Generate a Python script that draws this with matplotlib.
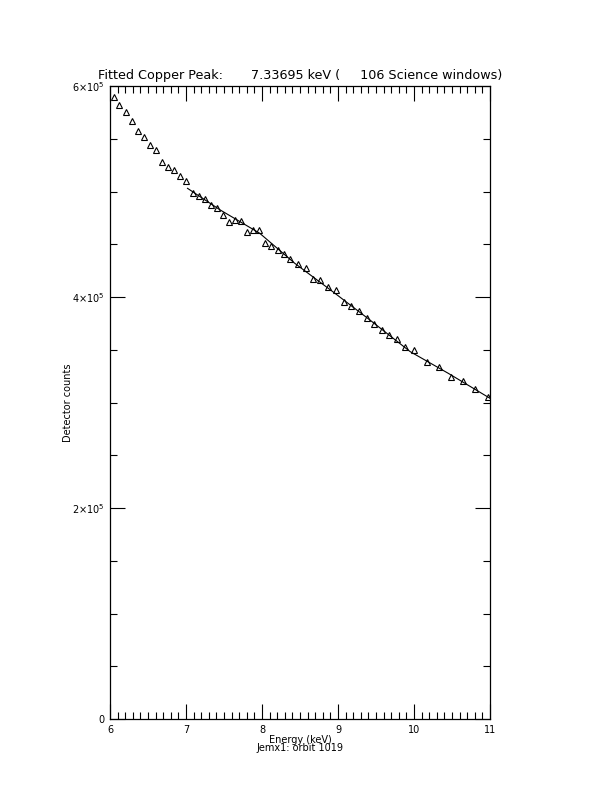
import matplotlib
matplotlib.use('Agg')
import matplotlib.pyplot as plt
from matplotlib.ticker import MultipleLocator, FuncFormatter

# Données
energie = [6.049, 6.122, 6.207, 6.286, 6.368, 6.447, 6.530, 6.609, 6.688, 6.767,
           6.846, 6.925, 7.004, 7.088, 7.167, 7.246, 7.329, 7.408, 7.487, 7.570,
           7.649, 7.728, 7.807, 7.886, 7.964, 8.046, 8.125, 8.204, 8.286, 8.371,
           8.470, 8.579, 8.675, 8.767, 8.872, 8.974, 9.079, 9.175, 9.276, 9.378,
           9.478, 9.579, 9.675, 9.772, 9.878, 10.004, 10.171, 10.329, 10.487, 10.645,
           10.807, 10.970]
comptes = [589900, 582000, 575400, 566800, 557700, 551400, 544100, 539400, 528000, 523000,
           520400, 514700, 510300, 498300, 495800, 492900, 486900, 484400, 477800, 471100,
           472700, 472100, 461900, 463200, 463200, 451500, 448600, 444600, 440300, 436200,
           431300, 427200, 417400, 416100, 409200, 406400, 395600, 391800, 386500, 379800,
           374100, 368700, 363700, 360500, 352600, 349500, 338100, 333400, 324200, 320700,
           313100, 305500]

energie_fit = [7.02, 7.45, 7.97, 8.43, 8.96, 9.42, 9.95, 10.45, 11.0]
comptes_fit = [503000, 482500, 460400, 432000, 403500, 378200, 348200, 327700, 304000]

titre = 'Fitted Copper Peak:       7.33695 keV (     106 Science windows)'

plt.rcParams['font.family'] = 'DejaVu Sans'

fig = plt.figure(figsize=(6.12, 7.92), dpi=100)
ax = fig.add_axes([110 / 612, 1 - 719 / 792, 380 / 612, 633 / 792])

ax.plot(energie_fit, comptes_fit, color='black', linewidth=0.8)
ax.plot(energie, comptes, linestyle='none', marker='^', markersize=5,
        markerfacecolor='none', markeredgecolor='black', markeredgewidth=0.8)

ax.set_xlim(6, 11)
ax.set_ylim(0, 6e5)

ax.xaxis.set_major_locator(MultipleLocator(1))
ax.xaxis.set_minor_locator(MultipleLocator(0.1))
ax.yaxis.set_major_locator(MultipleLocator(2e5))
ax.yaxis.set_minor_locator(MultipleLocator(0.5e5))


def fmt_y(v, pos):
    if v == 0:
        return '0'
    return '%d×10$^5$' % round(v / 1e5)


ax.yaxis.set_major_formatter(FuncFormatter(fmt_y))

ax.tick_params(which='both', direction='in', top=True, right=True, labelsize=7, width=0.8)
ax.tick_params(which='major', length=11, pad=4)
ax.tick_params(which='minor', length=5)
for s in ax.spines.values():
    s.set_linewidth(0.9)

ax.set_title(titre, fontsize=9.2, pad=5)
ax.set_ylabel('Detector counts', fontsize=7, labelpad=-1)
ax.set_xlabel('Energy (keV)\nJemx1: orbit 1019', fontsize=7, labelpad=0, linespacing=0.85)

plt.savefig('out.png', dpi=100)
